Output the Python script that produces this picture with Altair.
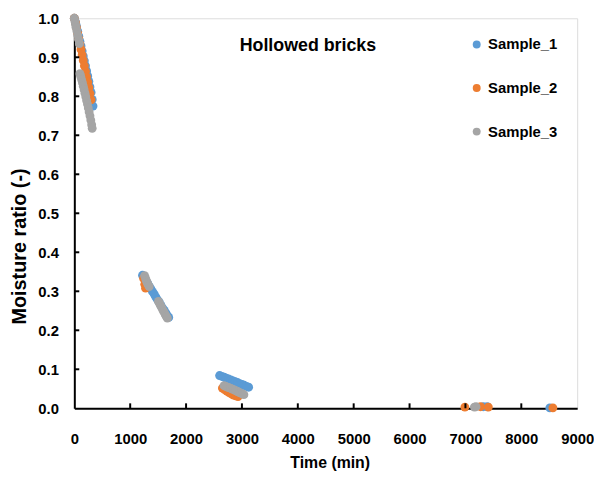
import altair as alt
import pandas as pd

# ---- data ----
series_names = ["Sample_1", "Sample_2", "Sample_3"]
series_colors = ["#5B9BD5", "#ED7D31", "#A5A5A5"]

t1 = [0, 20, 40, 60, 80, 100, 120, 140, 160, 180, 200, 220, 240, 260, 280, 300, 320, 335,
      1220, 1250, 1280, 1310, 1340, 1370, 1400, 1430, 1460, 1490, 1520, 1550, 1580, 1610, 1640, 1670, 1690,
      2600, 2640, 2680, 2720, 2760, 2800, 2840, 2880, 2920, 2960, 3000, 3040, 3080, 3120,
      7320, 7390, 8510]
m1 = [1.000, 0.991, 0.979, 0.967, 0.954, 0.941, 0.929, 0.916, 0.903, 0.891, 0.878, 0.865, 0.852, 0.838, 0.824, 0.810, 0.792, 0.775,
      0.341, 0.334, 0.327, 0.321, 0.313, 0.306, 0.299, 0.293, 0.285, 0.278, 0.272, 0.264, 0.257, 0.251, 0.244, 0.237, 0.233,
      0.084, 0.082, 0.080, 0.077, 0.075, 0.073, 0.070, 0.068, 0.066, 0.063, 0.061, 0.059, 0.056, 0.054,
      0.004, 0.004, 0.001]

t2 = [0, 20, 40, 60, 80, 100, 120, 140, 160, 180, 200, 220, 240, 260, 280, 300,
      1240, 1260, 1275,
      2650, 2690, 2730, 2770, 2810, 2850, 2890, 2930,
      6990, 7270, 7410, 8565]
m2 = [1.000, 0.989, 0.976, 0.962, 0.948, 0.934, 0.920, 0.906, 0.892, 0.878, 0.864, 0.850, 0.836, 0.822, 0.807, 0.791,
      0.333, 0.318, 0.308,
      0.052, 0.048, 0.044, 0.040, 0.037, 0.034, 0.032, 0.030,
      0.003, 0.004, 0.003, 0.001]

t3 = [0, 10, 20, 30, 45, 60, 75, 90,
      100, 115, 130, 145, 160, 175, 190, 205, 220, 235, 250, 265, 280, 295, 310, 320,
      1258, 1275, 1290, 1305, 1320, 1340,
      1505, 1525, 1545, 1565, 1585, 1605, 1625, 1645, 1665,
      2680, 2710, 2740, 2770, 2800, 2830, 2860, 2890, 2920, 2950, 2980, 3010, 3035,
      7160, 7190]
m3 = [1.000, 0.993, 0.985, 0.977, 0.968, 0.957, 0.946, 0.935,
      0.858, 0.851, 0.843, 0.835, 0.826, 0.817, 0.808, 0.799, 0.789, 0.780, 0.770, 0.760, 0.750, 0.739, 0.727, 0.718,
      0.340, 0.333, 0.327, 0.322, 0.317, 0.312,
      0.274, 0.269, 0.263, 0.258, 0.252, 0.247, 0.241, 0.236, 0.231,
      0.058, 0.056, 0.054, 0.053, 0.051, 0.049, 0.047, 0.045, 0.043, 0.041, 0.039, 0.037, 0.035,
      0.003, 0.004]

x_ticks = [0, 1000, 2000, 3000, 4000, 5000, 6000, 7000, 8000, 9000]
y_ticks = [0.0, 0.1, 0.2, 0.3, 0.4, 0.5, 0.6, 0.7, 0.8, 0.9, 1.0]

chart_title = "Hollowed bricks"
x_title = "Time (min)"
y_title = "Moisture ratio (-)"

# ---- build table ----
rows = []
for k, (ts, ms) in enumerate([(t1, m1), (t2, m2), (t3, m3)]):
    for t, m in zip(ts, ms):
        rows.append({"time": t, "mr": m, "series": series_names[k], "ord": k})
df = pd.DataFrame(rows)

W, H = 508, 394
FONT = "Liberation Sans"

xscale = alt.Scale(domain=[0, 9000], nice=False, zero=False)
yscale = alt.Scale(domain=[0, 1.0], nice=False)

x_axis = alt.Axis(values=x_ticks, format="d", title=x_title, grid=False,
                  ticks=False, labelPadding=24, labelFontSize=15, labelFontWeight="bold",
                  labelFont=FONT, labelColor="black", labelOverlap=False, labelFlush=False,
                  domainColor="black", domainWidth=2,
                  titleFont=FONT, titleFontSize=16, titleFontWeight="bold", titleColor="black",
                  titleX=258, titleY=55, titleBaseline="middle", titleAlign="center")
y_axis = alt.Axis(values=y_ticks, format=".1f", title=y_title, grid=False,
                  ticks=False, labelPadding=16, labelFontSize=15, labelFontWeight="bold",
                  labelFont=FONT, labelColor="black", labelOverlap=False, labelFlush=False,
                  domainColor="black", domainWidth=2,
                  titleFont=FONT, titleFontSize=20, titleFontWeight="bold", titleColor="black",
                  titleX=-55, titleY=230, titleAngle=270, titleBaseline="middle", titleAlign="center")

points = alt.Chart(df).mark_circle(size=80, opacity=1).encode(
    x=alt.X("time:Q", scale=xscale, axis=x_axis),
    y=alt.Y("mr:Q", scale=yscale, axis=y_axis),
    color=alt.Color("series:N",
                    scale=alt.Scale(domain=series_names, range=series_colors),
                    legend=alt.Legend(title=None, orient="none", legendX=399, legendY=19,
                                      symbolType="circle", symbolSize=64, symbolStrokeWidth=0,
                                      labelFont=FONT, labelFontSize=15, labelFontWeight="bold",
                                      labelColor="black", labelOffset=4, rowPadding=28, padding=0)),
    order=alt.Order("ord:Q"),
)

xt_df = pd.DataFrame({"time": x_ticks[1:-1]})
yt_df = pd.DataFrame({"mr": y_ticks[1:-1]})

xtick_rules = alt.Chart(xt_df).mark_rule(color="black", strokeWidth=2).encode(
    x=alt.X("time:Q", scale=xscale, axis=x_axis), y=alt.value(H), y2=alt.value(H - 5))
ytick_rules = alt.Chart(yt_df).mark_rule(color="black", strokeWidth=2).encode(
    y=alt.Y("mr:Q", scale=yscale, axis=y_axis), x=alt.value(0), x2=alt.value(5))

title_df = pd.DataFrame({"txt": [chart_title]})
title_text = alt.Chart(title_df).mark_text(
    font=FONT, fontSize=18, fontWeight="bold", color="black", align="center", baseline="middle"
).encode(text="txt:N", x=alt.value(236), y=alt.value(28))

chart = alt.layer(points, xtick_rules, ytick_rules, title_text).properties(
    width=W, height=H,
    autosize=alt.AutoSizeParams(type="none"),
    padding={"left": 67, "top": 8, "right": 17, "bottom": 64},
).configure_view(stroke="black", strokeWidth=2).configure(background="white")

chart.save("out.html", embed_options={"renderer": "svg", "actions": False})
